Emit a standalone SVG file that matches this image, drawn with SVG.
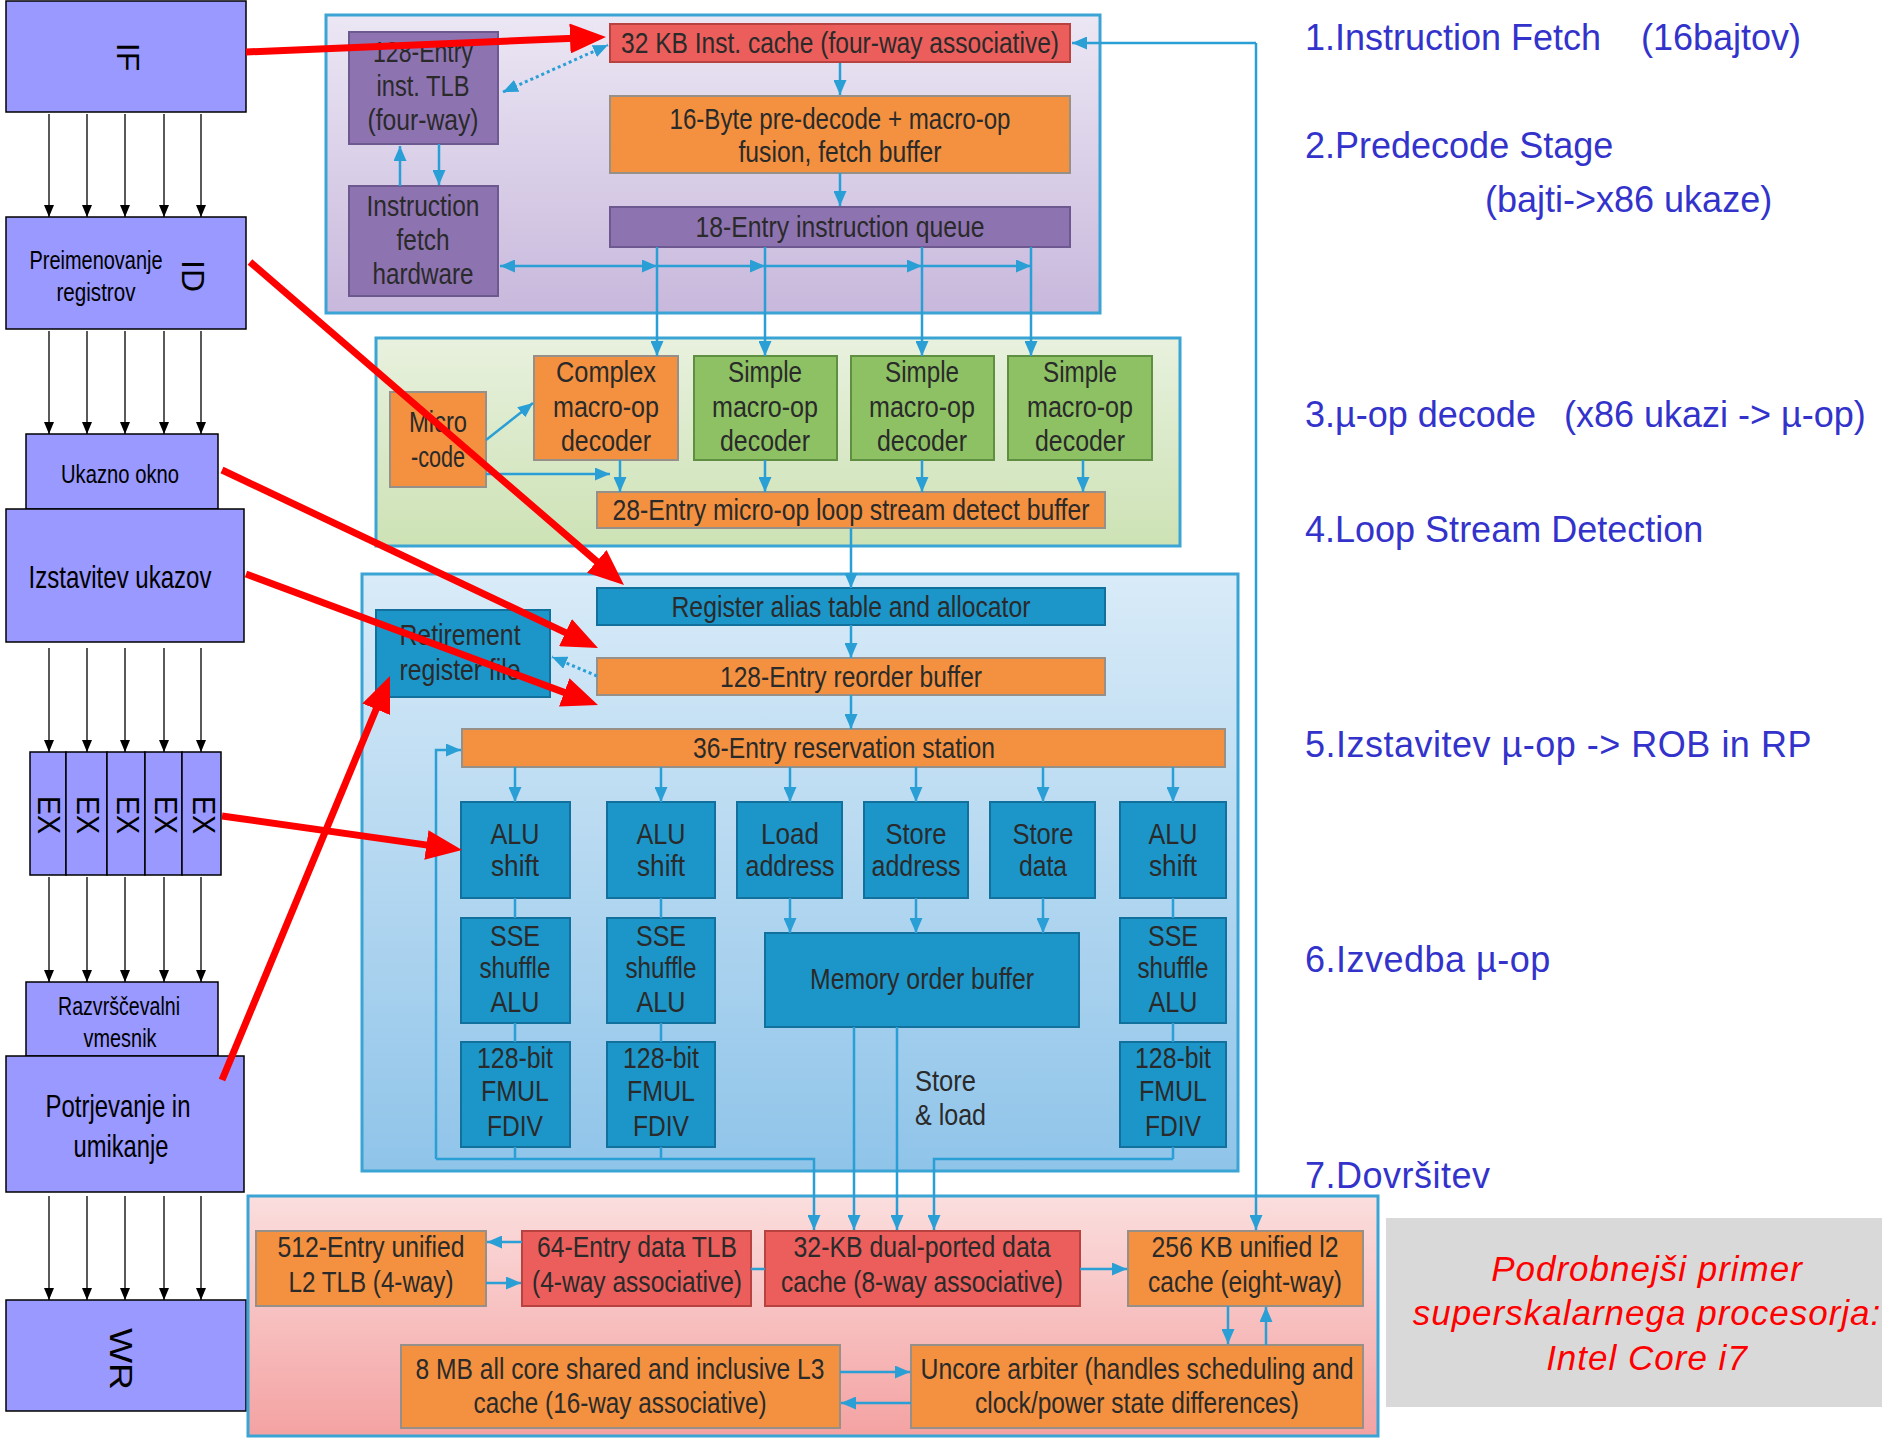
<svg xmlns="http://www.w3.org/2000/svg" width="1882" height="1440" viewBox="0 0 1882 1440">
  <defs>
    <linearGradient id="gPu" x1="0" y1="0" x2="0" y2="1">
      <stop offset="0" stop-color="#ece7f4"/><stop offset="1" stop-color="#c8b8dc"/>
    </linearGradient>
    <linearGradient id="gGr" x1="0" y1="0" x2="0" y2="1">
      <stop offset="0" stop-color="#e8f1de"/><stop offset="1" stop-color="#cde2b5"/>
    </linearGradient>
    <linearGradient id="gBl" x1="0" y1="0" x2="0" y2="1">
      <stop offset="0" stop-color="#d9ebf8"/><stop offset="1" stop-color="#8fc4e9"/>
    </linearGradient>
    <linearGradient id="gPk" x1="0" y1="0" x2="0" y2="1">
      <stop offset="0" stop-color="#fbdede"/><stop offset="1" stop-color="#f4a2a2"/>
    </linearGradient>
    <marker id="ab" viewBox="0 0 12 10" refX="12" refY="5" markerWidth="12" markerHeight="10" markerUnits="userSpaceOnUse" orient="auto">
      <path d="M0,0 L12,5 L0,10 z" fill="#000"/>
    </marker>
    <marker id="ac" viewBox="0 0 15 13" refX="15" refY="6.5" markerWidth="15" markerHeight="13" markerUnits="userSpaceOnUse" orient="auto-start-reverse">
      <path d="M0,0 L15,6.5 L0,13 z" fill="#2a9fd6"/>
    </marker>
    <marker id="ar" viewBox="0 0 36 30" refX="10" refY="15" markerWidth="36" markerHeight="30" markerUnits="userSpaceOnUse" orient="auto">
      <path d="M0,0 L36,15 L0,30 z" fill="#ff0000"/>
    </marker>
    <clipPath id="clipTlb"><rect x="349" y="33" width="149" height="111"/></clipPath>
    <clipPath id="clipDone"><rect x="1290" y="1120" width="600" height="68"/></clipPath>
  </defs>
  <style>
    .st { fill:#9999ff; stroke:#000; stroke-width:1.5; }
    .lt { font-family:"Liberation Sans", Arial, sans-serif; fill:#000; text-anchor:middle; }
    .rot { font-family:"Liberation Sans", Arial, sans-serif; font-size:32px; fill:#000; text-anchor:middle; }
    .panel { stroke:#3aa4d4; stroke-width:3; }
    .pu { fill:#8e73b1; stroke:#6d5890; stroke-width:2; }
    .or { fill:#f39140; stroke:#979088; stroke-width:2; }
    .rd { fill:#eb5e5b; stroke:#b7423f; stroke-width:2; }
    .gr { fill:#8dc164; stroke:#5f9042; stroke-width:2; }
    .bl { fill:#1c95c9; stroke:#12709c; stroke-width:2; }
    .t { font-family:"Liberation Sans", Arial, sans-serif; font-size:30px; fill:#2a2a2a; text-anchor:middle; }
    .ts { text-anchor:start; }
    .c { stroke:#2a9fd6; stroke-width:2.5; fill:none; }
    .ce { marker-end:url(#ac); }
    .dot { stroke-dasharray:3 3; stroke-width:3; }
    .k { stroke:#000; stroke-width:1.3; fill:none; marker-end:url(#ab); }
    .red { stroke:#ff0000; stroke-width:7; fill:none; marker-end:url(#ar); }
    .note { font-family:"Liberation Sans", Arial, sans-serif; font-size:36px; fill:#3333cc; }
    .note2 { font-family:"Liberation Sans", Arial, sans-serif; font-size:36px; fill:#3333cc; letter-spacing:0.5px; }
    .title { font-family:"Liberation Sans", Arial, sans-serif; font-size:35px; font-style:italic; fill:#ff0000; text-anchor:middle; letter-spacing:1px; }
  </style>

  <rect x="0" y="0" width="1882" height="1440" fill="#ffffff"/>

  <!-- Pipeline stages (left column) -->
  <g id="stage-if">
    <rect class="st" x="6" y="1" width="240" height="111"/>
    <text class="rot" transform="translate(128,57) rotate(90)" y="11">IF</text>
  </g>
  <g id="stage-id">
    <rect class="st" x="6" y="217" width="240" height="112"/>
    <text class="lt" font-size="25" x="96" y="269" textLength="133" lengthAdjust="spacingAndGlyphs">Preimenovanje</text>
    <text class="lt" font-size="25" x="96" y="301" textLength="79" lengthAdjust="spacingAndGlyphs">registrov</text>
    <text class="rot" transform="translate(193,276) rotate(90)" y="11">ID</text>
  </g>
  <g id="stage-window">
    <rect class="st" x="26" y="434" width="192" height="75"/>
    <text class="lt" font-size="26" x="120" y="483" textLength="118" lengthAdjust="spacingAndGlyphs">Ukazno okno</text>
  </g>
  <g id="stage-issue">
    <rect class="st" x="6" y="509" width="238" height="133"/>
    <text class="lt" font-size="32" x="120" y="588" textLength="183" lengthAdjust="spacingAndGlyphs">Izstavitev ukazov</text>
  </g>
  <g id="stage-ex">
    <rect class="st" x="30" y="752" width="36" height="123"/>
    <rect class="st" x="66" y="752" width="41" height="123"/>
    <rect class="st" x="107" y="752" width="38" height="123"/>
    <rect class="st" x="145" y="752" width="37" height="123"/>
    <rect class="st" x="182" y="752" width="39" height="123"/>
    <text class="rot" font-size="26" transform="translate(47,815) rotate(90)" y="9" textLength="38" lengthAdjust="spacingAndGlyphs">EX</text>
    <text class="rot" font-size="26" transform="translate(86,815) rotate(90)" y="9" textLength="38" lengthAdjust="spacingAndGlyphs">EX</text>
    <text class="rot" font-size="26" transform="translate(126,815) rotate(90)" y="9" textLength="38" lengthAdjust="spacingAndGlyphs">EX</text>
    <text class="rot" font-size="26" transform="translate(164,815) rotate(90)" y="9" textLength="38" lengthAdjust="spacingAndGlyphs">EX</text>
    <text class="rot" font-size="26" transform="translate(202,815) rotate(90)" y="9" textLength="38" lengthAdjust="spacingAndGlyphs">EX</text>
  </g>
  <g id="stage-rob">
    <rect class="st" x="26" y="982" width="192" height="74"/>
    <text class="lt" font-size="25" x="119" y="1015" textLength="122" lengthAdjust="spacingAndGlyphs">Razvrščevalni</text>
    <text class="lt" font-size="25" x="120" y="1047" textLength="73" lengthAdjust="spacingAndGlyphs">vmesnik</text>
  </g>
  <g id="stage-retire">
    <rect class="st" x="6" y="1056" width="238" height="136"/>
    <text class="lt" font-size="32" x="118" y="1117" textLength="145" lengthAdjust="spacingAndGlyphs">Potrjevanje in</text>
    <text class="lt" font-size="32" x="121" y="1157" textLength="95" lengthAdjust="spacingAndGlyphs">umikanje</text>
  </g>
  <g id="stage-wr">
    <rect class="st" x="6" y="1300" width="240" height="111"/>
    <text class="rot" transform="translate(122,1359) rotate(90)" y="12" textLength="62" lengthAdjust="spacingAndGlyphs">WR</text>
  </g>

  <!-- Stage-to-stage arrows -->
  <g id="stage-arrows">
    <path class="k" d="M49,114 V217"/><path class="k" d="M87,114 V217"/><path class="k" d="M125,114 V217"/><path class="k" d="M164,114 V217"/><path class="k" d="M201,114 V217"/>
    <path class="k" d="M49,331 V434"/><path class="k" d="M87,331 V434"/><path class="k" d="M125,331 V434"/><path class="k" d="M164,331 V434"/><path class="k" d="M201,331 V434"/>
    <path class="k" d="M49,648 V752"/><path class="k" d="M87,648 V752"/><path class="k" d="M125,648 V752"/><path class="k" d="M164,648 V752"/><path class="k" d="M201,648 V752"/>
    <path class="k" d="M49,877 V982"/><path class="k" d="M87,877 V982"/><path class="k" d="M125,877 V982"/><path class="k" d="M164,877 V982"/><path class="k" d="M201,877 V982"/>
    <path class="k" d="M49,1196 V1300"/><path class="k" d="M87,1196 V1300"/><path class="k" d="M125,1196 V1300"/><path class="k" d="M164,1196 V1300"/><path class="k" d="M201,1196 V1300"/>
  </g>

  <!-- Core block diagram: panels -->
  <g id="panel-frontend"><rect class="panel" x="326" y="15" width="774" height="298" fill="url(#gPu)"/></g>
  <g id="panel-decode"><rect class="panel" x="376" y="338" width="804" height="208" fill="url(#gGr)"/></g>
  <g id="panel-backend"><rect class="panel" x="362" y="574" width="876" height="597" fill="url(#gBl)"/></g>
  <g id="panel-memory"><rect class="panel" x="248" y="1196" width="1130" height="240" fill="url(#gPk)"/></g>

  <!-- Front end -->
  <g id="itlb">
    <rect class="pu" x="349" y="32" width="149" height="112"/>
    <g clip-path="url(#clipTlb)">
      <text class="t" x="423" y="62" textLength="100" lengthAdjust="spacingAndGlyphs">128-Entry</text>
    </g>
    <text class="t" x="423" y="96" textLength="93" lengthAdjust="spacingAndGlyphs">inst. TLB</text>
    <text class="t" x="423" y="130" textLength="111" lengthAdjust="spacingAndGlyphs">(four-way)</text>
  </g>
  <g id="fetch-hw">
    <rect class="pu" x="349" y="186" width="149" height="110"/>
    <text class="t" x="423" y="216" textLength="113" lengthAdjust="spacingAndGlyphs">Instruction</text>
    <text class="t" x="423" y="250" textLength="53" lengthAdjust="spacingAndGlyphs">fetch</text>
    <text class="t" x="423" y="284" textLength="101" lengthAdjust="spacingAndGlyphs">hardware</text>
  </g>
  <g id="icache">
    <rect class="rd" x="610" y="24" width="460" height="38"/>
    <text class="t" x="840" y="53" textLength="438" lengthAdjust="spacingAndGlyphs">32 KB Inst. cache (four-way associative)</text>
  </g>
  <g id="predecode">
    <rect class="or" x="610" y="96" width="460" height="77"/>
    <text class="t" x="840" y="129" textLength="341" lengthAdjust="spacingAndGlyphs">16-Byte pre-decode + macro-op</text>
    <text class="t" x="840" y="162" textLength="203" lengthAdjust="spacingAndGlyphs">fusion, fetch buffer</text>
  </g>
  <g id="iqueue">
    <rect class="pu" x="610" y="207" width="460" height="40"/>
    <text class="t" x="840" y="237" textLength="289" lengthAdjust="spacingAndGlyphs">18-Entry instruction queue</text>
  </g>

  <!-- Decode -->
  <g id="microcode">
    <rect class="or" x="390" y="392" width="96" height="95"/>
    <text class="t" x="438" y="432" textLength="58" lengthAdjust="spacingAndGlyphs">Micro</text>
    <text class="t" x="438" y="467" textLength="54" lengthAdjust="spacingAndGlyphs">-code</text>
  </g>
  <g id="dec-complex">
    <rect class="or" x="534" y="356" width="144" height="104"/>
    <text class="t" x="606" y="382" textLength="100" lengthAdjust="spacingAndGlyphs">Complex</text>
    <text class="t" x="606" y="417" textLength="106" lengthAdjust="spacingAndGlyphs">macro-op</text>
    <text class="t" x="606" y="451" textLength="90" lengthAdjust="spacingAndGlyphs">decoder</text>
  </g>
  <g id="dec-simple-1">
    <rect class="gr" x="694" y="356" width="143" height="104"/>
    <text class="t" x="765" y="382" textLength="74" lengthAdjust="spacingAndGlyphs">Simple</text>
    <text class="t" x="765" y="417" textLength="106" lengthAdjust="spacingAndGlyphs">macro-op</text>
    <text class="t" x="765" y="451" textLength="90" lengthAdjust="spacingAndGlyphs">decoder</text>
  </g>
  <g id="dec-simple-2">
    <rect class="gr" x="851" y="356" width="143" height="104"/>
    <text class="t" x="922" y="382" textLength="74" lengthAdjust="spacingAndGlyphs">Simple</text>
    <text class="t" x="922" y="417" textLength="106" lengthAdjust="spacingAndGlyphs">macro-op</text>
    <text class="t" x="922" y="451" textLength="90" lengthAdjust="spacingAndGlyphs">decoder</text>
  </g>
  <g id="dec-simple-3">
    <rect class="gr" x="1008" y="356" width="144" height="104"/>
    <text class="t" x="1080" y="382" textLength="74" lengthAdjust="spacingAndGlyphs">Simple</text>
    <text class="t" x="1080" y="417" textLength="106" lengthAdjust="spacingAndGlyphs">macro-op</text>
    <text class="t" x="1080" y="451" textLength="90" lengthAdjust="spacingAndGlyphs">decoder</text>
  </g>
  <g id="lsd">
    <rect class="or" x="597" y="492" width="508" height="36"/>
    <text class="t" x="851" y="520" textLength="477" lengthAdjust="spacingAndGlyphs">28-Entry micro-op loop stream detect buffer</text>
  </g>

  <!-- Out-of-order back end -->
  <g id="rat">
    <rect class="bl" x="597" y="588" width="508" height="37"/>
    <text class="t" x="851" y="617" textLength="359" lengthAdjust="spacingAndGlyphs">Register alias table and allocator</text>
  </g>
  <g id="rrf">
    <rect class="bl" x="376" y="610" width="174" height="87"/>
    <text class="t" x="460" y="645" textLength="121" lengthAdjust="spacingAndGlyphs">Retirement</text>
    <text class="t" x="460" y="680" textLength="121" lengthAdjust="spacingAndGlyphs">register file</text>
  </g>
  <g id="rob">
    <rect class="or" x="597" y="658" width="508" height="37"/>
    <text class="t" x="851" y="687" textLength="262" lengthAdjust="spacingAndGlyphs">128-Entry reorder buffer</text>
  </g>
  <g id="rs">
    <rect class="or" x="462" y="729" width="763" height="38"/>
    <text class="t" x="844" y="758" textLength="302" lengthAdjust="spacingAndGlyphs">36-Entry reservation station</text>
  </g>
  <g id="alu-1">
    <rect class="bl" x="461" y="802" width="109" height="96"/>
    <text class="t" x="515" y="844" textLength="49" lengthAdjust="spacingAndGlyphs">ALU</text>
    <text class="t" x="515" y="876" textLength="48" lengthAdjust="spacingAndGlyphs">shift</text>
  </g>
  <g id="alu-2">
    <rect class="bl" x="607" y="802" width="108" height="96"/>
    <text class="t" x="661" y="844" textLength="49" lengthAdjust="spacingAndGlyphs">ALU</text>
    <text class="t" x="661" y="876" textLength="48" lengthAdjust="spacingAndGlyphs">shift</text>
  </g>
  <g id="load-addr">
    <rect class="bl" x="737" y="802" width="105" height="96"/>
    <text class="t" x="790" y="844" textLength="58" lengthAdjust="spacingAndGlyphs">Load</text>
    <text class="t" x="790" y="876" textLength="89" lengthAdjust="spacingAndGlyphs">address</text>
  </g>
  <g id="store-addr">
    <rect class="bl" x="864" y="802" width="104" height="96"/>
    <text class="t" x="916" y="844" textLength="61" lengthAdjust="spacingAndGlyphs">Store</text>
    <text class="t" x="916" y="876" textLength="89" lengthAdjust="spacingAndGlyphs">address</text>
  </g>
  <g id="store-data">
    <rect class="bl" x="990" y="802" width="105" height="96"/>
    <text class="t" x="1043" y="844" textLength="61" lengthAdjust="spacingAndGlyphs">Store</text>
    <text class="t" x="1043" y="876" textLength="48" lengthAdjust="spacingAndGlyphs">data</text>
  </g>
  <g id="alu-3">
    <rect class="bl" x="1120" y="802" width="106" height="96"/>
    <text class="t" x="1173" y="844" textLength="49" lengthAdjust="spacingAndGlyphs">ALU</text>
    <text class="t" x="1173" y="876" textLength="48" lengthAdjust="spacingAndGlyphs">shift</text>
  </g>
  <g id="sse-1">
    <rect class="bl" x="461" y="918" width="109" height="105"/>
    <text class="t" x="515" y="946" textLength="50" lengthAdjust="spacingAndGlyphs">SSE</text>
    <text class="t" x="515" y="978" textLength="71" lengthAdjust="spacingAndGlyphs">shuffle</text>
    <text class="t" x="515" y="1012" textLength="49" lengthAdjust="spacingAndGlyphs">ALU</text>
  </g>
  <g id="sse-2">
    <rect class="bl" x="607" y="918" width="108" height="105"/>
    <text class="t" x="661" y="946" textLength="50" lengthAdjust="spacingAndGlyphs">SSE</text>
    <text class="t" x="661" y="978" textLength="71" lengthAdjust="spacingAndGlyphs">shuffle</text>
    <text class="t" x="661" y="1012" textLength="49" lengthAdjust="spacingAndGlyphs">ALU</text>
  </g>
  <g id="sse-3">
    <rect class="bl" x="1120" y="918" width="106" height="105"/>
    <text class="t" x="1173" y="946" textLength="50" lengthAdjust="spacingAndGlyphs">SSE</text>
    <text class="t" x="1173" y="978" textLength="71" lengthAdjust="spacingAndGlyphs">shuffle</text>
    <text class="t" x="1173" y="1012" textLength="49" lengthAdjust="spacingAndGlyphs">ALU</text>
  </g>
  <g id="fp-1">
    <rect class="bl" x="461" y="1042" width="109" height="105"/>
    <text class="t" x="515" y="1068" textLength="76" lengthAdjust="spacingAndGlyphs">128-bit</text>
    <text class="t" x="515" y="1101" textLength="68" lengthAdjust="spacingAndGlyphs">FMUL</text>
    <text class="t" x="515" y="1136" textLength="56" lengthAdjust="spacingAndGlyphs">FDIV</text>
  </g>
  <g id="fp-2">
    <rect class="bl" x="607" y="1042" width="108" height="105"/>
    <text class="t" x="661" y="1068" textLength="76" lengthAdjust="spacingAndGlyphs">128-bit</text>
    <text class="t" x="661" y="1101" textLength="68" lengthAdjust="spacingAndGlyphs">FMUL</text>
    <text class="t" x="661" y="1136" textLength="56" lengthAdjust="spacingAndGlyphs">FDIV</text>
  </g>
  <g id="fp-3">
    <rect class="bl" x="1120" y="1042" width="106" height="105"/>
    <text class="t" x="1173" y="1068" textLength="76" lengthAdjust="spacingAndGlyphs">128-bit</text>
    <text class="t" x="1173" y="1101" textLength="68" lengthAdjust="spacingAndGlyphs">FMUL</text>
    <text class="t" x="1173" y="1136" textLength="56" lengthAdjust="spacingAndGlyphs">FDIV</text>
  </g>
  <g id="mob">
    <rect class="bl" x="765" y="933" width="314" height="94"/>
    <text class="t" x="922" y="989" textLength="224" lengthAdjust="spacingAndGlyphs">Memory order buffer</text>
  </g>

  <!-- Memory hierarchy -->
  <g id="l2tlb">
    <rect class="or" x="256" y="1231" width="230" height="75"/>
    <text class="t" x="371" y="1257" textLength="187" lengthAdjust="spacingAndGlyphs">512-Entry unified</text>
    <text class="t" x="371" y="1292" textLength="165" lengthAdjust="spacingAndGlyphs">L2 TLB (4-way)</text>
  </g>
  <g id="dtlb">
    <rect class="rd" x="522" y="1231" width="229" height="75"/>
    <text class="t" x="637" y="1257" textLength="200" lengthAdjust="spacingAndGlyphs">64-Entry data TLB</text>
    <text class="t" x="637" y="1292" textLength="210" lengthAdjust="spacingAndGlyphs">(4-way associative)</text>
  </g>
  <g id="dcache">
    <rect class="rd" x="765" y="1231" width="315" height="75"/>
    <text class="t" x="922" y="1257" textLength="257" lengthAdjust="spacingAndGlyphs">32-KB dual-ported data</text>
    <text class="t" x="922" y="1292" textLength="282" lengthAdjust="spacingAndGlyphs">cache (8-way associative)</text>
  </g>
  <g id="l2cache">
    <rect class="or" x="1128" y="1231" width="235" height="75"/>
    <text class="t" x="1245" y="1257" textLength="187" lengthAdjust="spacingAndGlyphs">256 KB unified l2</text>
    <text class="t" x="1245" y="1292" textLength="194" lengthAdjust="spacingAndGlyphs">cache (eight-way)</text>
  </g>
  <g id="l3cache">
    <rect class="or" x="401" y="1345" width="439" height="83"/>
    <text class="t" x="620" y="1379" textLength="409" lengthAdjust="spacingAndGlyphs">8 MB all core shared and inclusive L3</text>
    <text class="t" x="620" y="1413" textLength="293" lengthAdjust="spacingAndGlyphs">cache (16-way associative)</text>
  </g>
  <g id="uncore">
    <rect class="or" x="911" y="1345" width="452" height="83"/>
    <text class="t" x="1137" y="1379" textLength="433" lengthAdjust="spacingAndGlyphs">Uncore arbiter (handles scheduling and</text>
    <text class="t" x="1137" y="1413" textLength="324" lengthAdjust="spacingAndGlyphs">clock/power state differences)</text>
  </g>

  <!-- Data paths -->
  <g id="connectors">
    <path class="c ce" d="M840,63 V95"/>
    <path class="c ce" d="M840,173 V206"/>
    <path class="c ce" d="M400,186 V146"/>
    <path class="c ce" d="M439,144 V185"/>
    <path class="c dot" d="M503,92 L608,45" marker-start="url(#ac)" marker-end="url(#ac)"/>
    <path class="c ce" d="M1256,43 H1072"/>
    <path class="c ce" d="M1256,43 V1230"/>
    <path class="c ce" d="M530,266 H500"/>
    <path class="c ce" d="M530,266 H657"/>
    <path class="c ce" d="M657,266 H765"/>
    <path class="c ce" d="M765,266 H922"/>
    <path class="c ce" d="M922,266 H1031"/>
    <path class="c ce" d="M657,247 V356"/>
    <path class="c ce" d="M765,247 V356"/>
    <path class="c ce" d="M922,247 V356"/>
    <path class="c ce" d="M1031,247 V356"/>
    <path class="c ce" d="M486,440 L533,403"/>
    <path class="c ce" d="M486,474 H610"/>
    <path class="c ce" d="M620,460 V492"/>
    <path class="c ce" d="M765,460 V492"/>
    <path class="c ce" d="M922,460 V492"/>
    <path class="c ce" d="M1083,460 V492"/>
    <path class="c ce" d="M851,528 V588"/>
    <path class="c ce" d="M851,625 V658"/>
    <path class="c ce" d="M851,695 V729"/>
    <path class="c dot ce" d="M597,676 L552,657"/>
    <path class="c ce" d="M515,767 V802"/>
    <path class="c ce" d="M661,767 V802"/>
    <path class="c ce" d="M790,767 V802"/>
    <path class="c ce" d="M916,767 V802"/>
    <path class="c ce" d="M1043,767 V802"/>
    <path class="c ce" d="M1173,767 V802"/>
    <path class="c ce" d="M790,898 V933"/>
    <path class="c ce" d="M916,898 V933"/>
    <path class="c ce" d="M1043,898 V933"/>
    <path class="c" d="M515,898 V918 M515,1023 V1042 M661,898 V918 M661,1023 V1042 M1173,898 V918 M1173,1023 V1042"/>
    <path class="c" d="M515,1147 V1159 M661,1147 V1159 M1173,1147 V1159"/>
    <path class="c ce" d="M436,1159 V750 H461"/>
    <path class="c ce" d="M436,1159 H814 V1230"/>
    <path class="c ce" d="M1173,1159 H934 V1230"/>
    <path class="c ce" d="M854,1027 V1230"/>
    <path class="c ce" d="M897,1027 V1230"/>
    <path class="c ce" d="M522,1242 H487"/>
    <path class="c ce" d="M486,1283 H521"/>
    <path class="c" d="M751,1269 H765"/>
    <path class="c ce" d="M1080,1269 H1127"/>
    <path class="c ce" d="M840,1372 H910"/>
    <path class="c ce" d="M911,1403 H841"/>
    <path class="c ce" d="M1228,1306 V1344"/>
    <path class="c ce" d="M1266,1345 V1307"/>
  </g>
  <g id="label-store-load">
    <text class="t ts" x="915" y="1091" textLength="61" lengthAdjust="spacingAndGlyphs">Store</text>
    <text class="t ts" x="915" y="1125" textLength="71" lengthAdjust="spacingAndGlyphs">&amp; load</text>
  </g>

  <!-- Stage-to-hardware mapping -->
  <g id="mapping">
    <path class="red" d="M246,52 L580,38.1"/>
    <path class="red" d="M250,262 L604.3,568"/>
    <path class="red" d="M222,470 L574.5,636.9"/>
    <path class="red" d="M246,574 L573.6,695.9"/>
    <path class="red" d="M222,816 L436.3,846.4"/>
    <path class="red" d="M222,1080 L380,700"/>
  </g>

  <!-- Stage notes -->
  <g id="notes">
    <text class="note" x="1305" y="50">1.Instruction Fetch</text>
    <text class="note" x="1641" y="50">(16bajtov)</text>
    <text class="note" x="1305" y="158">2.Predecode Stage</text>
    <text class="note" x="1485" y="212">(bajti-&gt;x86 ukaze)</text>
    <text class="note" x="1305" y="427">3.µ-op decode</text>
    <text class="note" x="1564" y="427">(x86 ukazi -&gt; µ-op)</text>
    <text class="note" x="1305" y="542">4.Loop Stream Detection</text>
    <text class="note2" x="1305" y="757">5.Izstavitev µ-op -&gt; ROB in RP</text>
    <text class="note2" x="1305" y="972">6.Izvedba µ-op</text>
    <g clip-path="url(#clipDone)">
      <text class="note2" x="1305" y="1188">7.Dovršitev</text>
    </g>
  </g>

  <g id="caption">
    <rect x="1386" y="1218" width="496" height="189" fill="#d9d9d9"/>
    <text class="title" x="1647" y="1281">Podrobnejši primer</text>
    <text class="title" x="1647" y="1325">superskalarnega procesorja:</text>
    <text class="title" x="1647" y="1370">Intel Core i7</text>
  </g>
</svg>
